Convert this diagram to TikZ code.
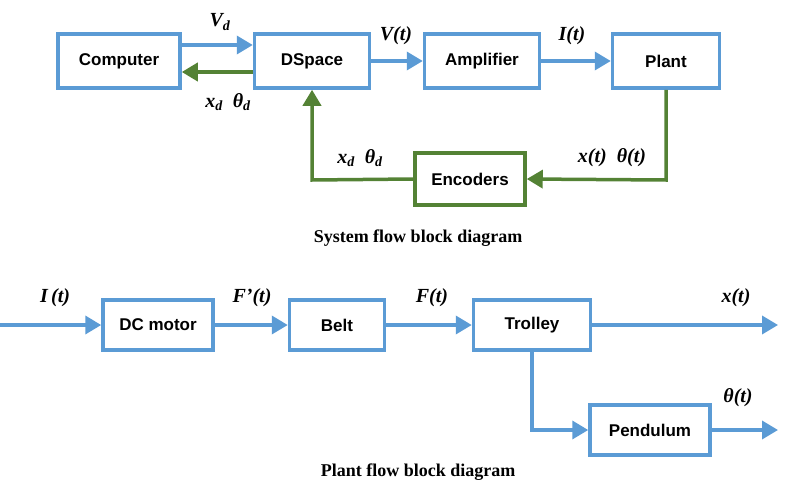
\documentclass[tikz,border=0pt]{standalone}
\usepackage{fontspec}
\setmainfont{Liberation Serif}
\newfontfamily\boxfont{Liberation Sans}
\usetikzlibrary{arrows.meta}
\definecolor{bl}{RGB}{91,155,213}
\definecolor{gr}{RGB}{84,130,53}
\begin{document}
\begin{tikzpicture}[x=1pt,y=-1pt,
 box/.style={draw=bl,line width=3.5pt,fill=white,inner sep=0pt,font=\boxfont\bfseries\fontsize{17}{20}\selectfont},
 ba/.style={bl,line width=3.5pt,-{Triangle[length=16pt,width=18pt]}},
 ga/.style={gr,line width=3.5pt,-{Triangle[length=16pt,width=18pt]}},
 lab/.style={font=\bfseries\itshape\fontsize{20}{24}\selectfont},
 captext/.style={font=\bfseries\fontsize{18}{22}\selectfont}]
\useasboundingbox (0,0) rectangle (800,503);
\node[box,minimum width=122pt,minimum height=54pt] (comp) at (119,61) {Computer};
\node[box,minimum width=115pt,minimum height=54pt] (dsp) at (312,61) {DSpace};
\node[box,minimum width=115pt,minimum height=54pt] (amp) at (482,61) {Amplifier};
\node[box,minimum width=107pt,minimum height=54pt] (plant) at (666,61) {Plant};
\node[box,draw=gr,minimum width=110pt,minimum height=52pt] (enc) at (470,179) {Encoders};
\draw[ba] (comp.east|-0,45) -- (dsp.west|-0,45);
\draw[ga] (dsp.west|-0,72) -- (comp.east|-0,72);
\draw[ba] (dsp) -- (amp);
\draw[ba] (amp) -- (plant);
\coordinate (c1) at (666,180);
\coordinate (c2) at (312,180);
\draw[ga] (plant.south) -- (c1) -- (enc.east);
\draw[ga] (enc.west) -- (c2) -- (dsp.south);
\node[lab] (l1) at (220,22) {V\textsubscript{d}};
\node[lab] (l2) at (228,102) {x\textsubscript{d}\enspace θ\textsubscript{d}};
\node[lab] (l3) at (396,36) {V(t)};
\node[lab] (l4) at (572,36) {I(t)};
\node[lab] (l5) at (360,158) {x\textsubscript{d}\enspace θ\textsubscript{d}};
\node[lab] (l6) at (612,158) {x(t)\enspace θ(t)};
\node[captext] (cap1) at (418,238) {System flow block diagram};
% plant diagram
\node[box,minimum width=110pt,minimum height=50pt] (dc) at (158,325) {DC motor};
\node[box,minimum width=95pt,minimum height=50pt] (belt) at (337,325) {Belt};
\node[box,minimum width=117pt,minimum height=50pt] (tro) at (532,325) {Trolley};
\node[box,minimum width=120pt,minimum height=50pt] (pen) at (650,430) {Pendulum};
\coordinate (in) at (0,325);
\coordinate (xo) at (778,325);
\coordinate (to) at (778,430);
\coordinate (c3) at (532,430);
\draw[ba] (in) -- (dc);
\draw[ba] (dc) -- (belt);
\draw[ba] (belt) -- (tro);
\draw[ba] (tro) -- (xo);
\draw[ba] (tro.south) -- (c3) -- (pen.west);
\draw[ba] (pen) -- (to);
\node[lab] (m1) at (55,298) {I\,(t)};
\node[lab] (m2) at (252,298) {F’(t)};
\node[lab] (m3) at (432,298) {F(t)};
\node[lab] (m4) at (736,298) {x(t)};
\node[lab] (m5) at (738,398) {θ(t)};
\node[captext] (cap2) at (418,472) {Plant flow block diagram};
\end{tikzpicture}
\end{document}
